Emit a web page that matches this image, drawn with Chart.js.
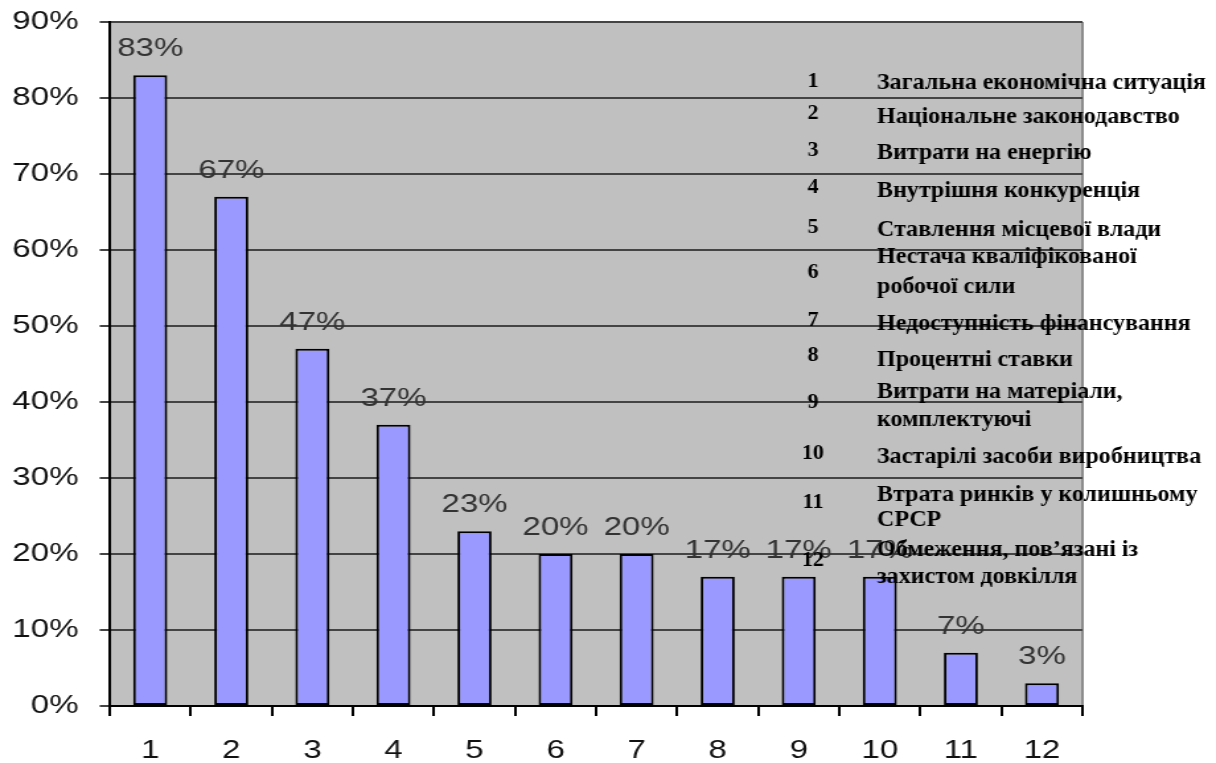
<!DOCTYPE html>
<html>
<head>
<meta charset="utf-8">
<script src="https://cdn.jsdelivr.net/npm/chart.js@4"></script>
<style>
  html, body { margin: 0; padding: 0; background: #fff; overflow: hidden; }
  /* the original picture is stretched sideways, so the chart is too */
  #wrap { width: 920px; height: 763px; transform: scaleX(1.3217); transform-origin: 0 0; }
</style>
</head>
<body>
<div id="wrap"><canvas id="barChart" width="920" height="763"></canvas></div>
<script>
// Categories and values (percent)
const categories = ["1", "2", "3", "4", "5", "6", "7", "8", "9", "10", "11", "12"];
const shares = [83, 67, 47, 37, 23, 20, 20, 17, 17, 17, 7, 3];
const yTicks = [0, 10, 20, 30, 40, 50, 60, 70, 80, 90];

// Legend entries (number + text lines)
const legendNums = ["1", "2", "3", "4", "5", "6", "7", "8", "9", "10", "11", "12"];
const legendTexts = [
  ["Загальна економічна ситуація"],
  ["Національне законодавство"],
  ["Витрати на енергію"],
  ["Внутрішня конкуренція"],
  ["Ставлення місцевої влади"],
  ["Нестача кваліфікованої", "робочої сили"],
  ["Недоступність фінансування"],
  ["Процентні ставки"],
  ["Витрати на матеріали,", "комплектуючі"],
  ["Застарілі засоби виробництва"],
  ["Втрата ринків у колишньому", "СРСР"],
  ["Обмеження, пов’язані із", "захистом довкілля"],
];

const stretch = 1.3217;

// layout of the legend block (screen pixels, drawn unstretched)
const legendNumX = 813;
const legendTextX = 877;
const legendNumY = [81, 113, 150, 187, 227, 272, 320, 355, 402, 453, 502, 560];
const legendLineY = [[83], [117], [153], [191], [230], [257, 287], [324], [360], [392, 420], [457], [495, 520], [550, 577]];

const plotBackground = {
  id: "plotBackground",
  beforeDraw(chart) {
    const { ctx, chartArea: a } = chart;
    ctx.save();
    ctx.fillStyle = "#c0c0c0";
    ctx.fillRect(a.left, a.top, a.right - a.left, a.bottom - a.top);
    ctx.strokeStyle = "#8c8c8c";
    ctx.lineWidth = 2;
    ctx.beginPath();
    ctx.moveTo(a.right, a.top);
    ctx.lineTo(a.right, a.bottom);
    ctx.stroke();
    ctx.restore();
  },
};

const valueLabels = {
  id: "valueLabels",
  afterDatasetsDraw(chart) {
    const { ctx } = chart;
    const meta = chart.getDatasetMeta(0);
    ctx.save();
    ctx.font = "25px 'Liberation Sans', Arial, sans-serif";
    ctx.fillStyle = "#333";
    ctx.textAlign = "center";
    ctx.textBaseline = "alphabetic";
    meta.data.forEach((bar, i) => {
      ctx.fillText(shares[i] + "%", bar.x, bar.y - 19);
    });
    ctx.restore();
  },
};

const sideLegend = {
  id: "sideLegend",
  afterDatasetsDraw(chart) {
    const { ctx } = chart;
    ctx.save();
    ctx.scale(1 / stretch, 1); // undo the sideways stretch for this block
    ctx.fillStyle = "#000";
    ctx.textBaseline = "middle";
    legendNums.forEach((n, i) => {
      ctx.font = "bold 22px 'Liberation Serif', 'Times New Roman', serif";
      ctx.textAlign = "center";
      ctx.fillText(n, legendNumX, legendNumY[i]);
      ctx.font = "bold 24px 'Liberation Serif', 'Times New Roman', serif";
      ctx.textAlign = "left";
      legendTexts[i].forEach((line, j) => {
        ctx.fillText(line, legendTextX, legendLineY[i][j]);
      });
    });
    ctx.restore();
  },
};

const ctx = document.getElementById("barChart").getContext("2d");
const barChart = new Chart(ctx, {
  type: "bar",
  data: {
    labels: categories,
    datasets: [
      {
        data: shares,
        backgroundColor: "#9999ff",
        borderColor: "#000",
        borderWidth: 2,
        borderSkipped: false,
        barPercentage: 0.42,
        categoryPercentage: 1,
      },
    ],
  },
  options: {
    responsive: false,
    animation: false,
    layout: { padding: { top: 22, right: 101, left: 0, bottom: 0 } },
    plugins: {
      legend: { display: false },
      tooltip: { enabled: false },
    },
    scales: {
      x: {
        grid: {
          offset: true,
          drawOnChartArea: false,
          drawTicks: true,
          tickLength: 10,
          color: "#000",
          lineWidth: 2,
        },
        border: { color: "#000", width: 2 },
        ticks: {
          color: "#111",
          font: { family: "'Liberation Sans', Arial, sans-serif", size: 25 },
          padding: 20,
          maxRotation: 0,
        },
        afterFit(scale) {
          scale.height = 57;
        },
      },
      y: {
        min: 0,
        max: 90,
        afterBuildTicks(scale) {
          scale.ticks = yTicks.map((v) => ({ value: v }));
        },
        grid: {
          color: "#444",
          lineWidth: 2,
          tickLength: 7.6,
        },
        border: { color: "#000", width: 2 },
        ticks: {
          color: "#111",
          font: { family: "'Liberation Sans', Arial, sans-serif", size: 25, lineHeight: 0.1 },
          padding: 16,
          callback: (v) => v + "%",
        },
        afterFit(scale) {
          scale.width = 83;
        },
      },
    },
  },
  plugins: [plotBackground, valueLabels, sideLegend],
});
</script>
</body>
</html>
